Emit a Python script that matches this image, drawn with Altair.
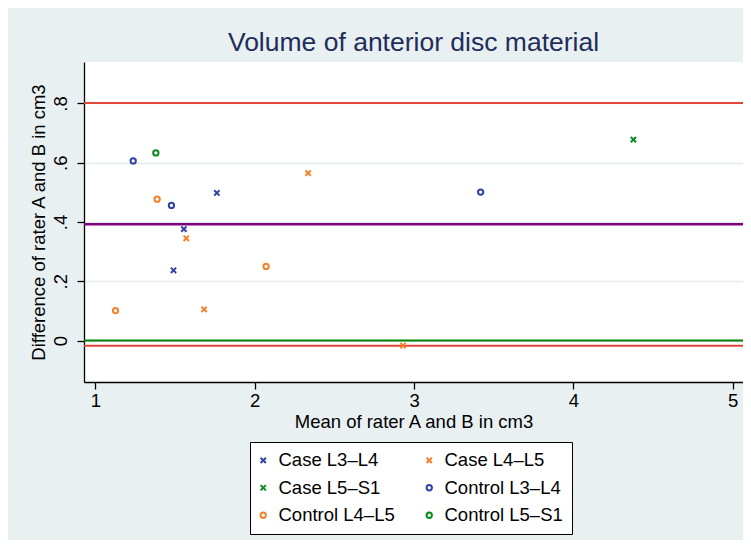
import altair as alt
import pandas as pd

# ---- data ----
categories = ["Case L3–L4", "Case L4–L5", "Case L5–S1",
              "Control L3–L4", "Control L4–L5", "Control L5–S1"]
cat_colors = ["#3343a3", "#f5822a", "#0b8a1f", "#3343a3", "#f5822a", "#0b8a1f"]
XSHAPE = "M-1,-1L1,1M1,-1L-1,1"
cat_shapes = [XSHAPE, XSHAPE, XSHAPE, "circle", "circle", "circle"]

pt_group = ["Case L3–L4", "Case L3–L4", "Case L3–L4",
            "Case L4–L5", "Case L4–L5", "Case L4–L5", "Case L4–L5",
            "Case L5–S1",
            "Control L3–L4", "Control L3–L4", "Control L3–L4",
            "Control L4–L5", "Control L4–L5", "Control L4–L5",
            "Control L5–S1"]
pt_mean = [1.762, 1.555, 1.490,
           2.335, 1.570, 1.682, 2.931,
           4.377,
           1.237, 1.477, 3.418,
           1.387, 2.071, 1.126,
           1.379]
pt_diff = [0.498, 0.376, 0.237,
           0.565, 0.345, 0.105, -0.017,
           0.678,
           0.606, 0.456, 0.501,
           0.477, 0.250, 0.101,
           0.633]

line_values = [0.802, 0.392, 0.0, -0.018]
line_colors = ["#e0473a", "#800080", "#008000", "#e0473a"]
line_widths = [2.0, 2.5, 2.2, 2.0]

y_ticks = [0, 0.2, 0.4, 0.6, 0.8]
x_ticks = [1, 2, 3, 4, 5]

pts = pd.DataFrame({"group": pt_group, "mean": pt_mean, "diff": pt_diff})
lines = pd.DataFrame({"y": line_values, "c": line_colors, "w": line_widths})

FONT = "Liberation Sans"

xscale = alt.Scale(domain=[0.928, 5.065], nice=False, zero=False)
yscale = alt.Scale(domain=[-0.140, 0.94], nice=False, zero=False)

legend_kw = dict(title=None, orient="none", legendX=166, legendY=380,
                 direction="horizontal", columns=2,
                 fillColor="white", strokeColor="black",
                 padding=9, labelFont=FONT, labelFontSize=18.5,
                 labelColor="black", labelOffset=6, symbolOffset=-5,
                 symbolSize=28, symbolStrokeWidth=2,
                 rowPadding=8.5, columnPadding=27)

rules = alt.Chart(lines).mark_rule().encode(
    y=alt.Y("y:Q", scale=yscale),
    color=alt.Color("c:N", scale=None),
    strokeWidth=alt.StrokeWidth("w:Q", scale=None),
)

points = alt.Chart(pts).mark_point(filled=False, strokeWidth=2, size=28, opacity=1).encode(
    x=alt.X("mean:Q", scale=xscale,
            axis=alt.Axis(values=x_ticks, format="d", grid=False,
                          domainColor="black", domainWidth=1.3,
                          tickColor="black", tickWidth=1.3, tickSize=7,
                          labelFont=FONT, labelFontSize=18.5, labelColor="black",
                          labelPadding=11.5, labelBaseline="middle",
                          title="Mean of rater A and B in cm3",
                          titleFont=FONT, titleFontSize=18.5, titleFontWeight="normal",
                          titleColor="black", titleY=39, titleBaseline="middle")),
    y=alt.Y("diff:Q", scale=yscale,
            axis=alt.Axis(values=y_ticks,
                          labelExpr="datum.value == 0 ? '0' : replace(format(datum.value, '.1f'), '0.', '.')",
                          grid=True, gridColor="#e4ecee", gridWidth=1.5,
                          domainColor="black", domainWidth=1.3,
                          tickColor="black", tickWidth=1.3, tickSize=7,
                          labelFont=FONT, labelFontSize=18.5, labelColor="black",
                          labelAngle=270, labelAlign="center", labelBaseline="middle",
                          labelPadding=17,
                          title="Difference of rater A and B in cm3",
                          titleFont=FONT, titleFontSize=18.5, titleFontWeight="normal",
                          titleColor="black", titleAngle=270, titleAlign="center",
                          titleBaseline="middle", titleX=-45.5, titleY=160)),
    color=alt.Color("group:N", scale=alt.Scale(domain=categories, range=cat_colors),
                    legend=alt.Legend(**legend_kw)),
    shape=alt.Shape("group:N", scale=alt.Scale(domain=categories, range=cat_shapes),
                    legend=alt.Legend(**legend_kw)),
)

chart = alt.layer(rules, points).properties(
    width=659, height=320,
    title=alt.TitleParams("Volume of anterior disc material", font=FONT, fontSize=26.5,
                          fontWeight="normal", color="#1f2d5a", anchor="middle", offset=6),
    background="#e9f0f2",
    padding={"left": 76, "top": 54, "right": 0, "bottom": 158},
    autosize=alt.AutoSizeParams(type="none"),
).configure_view(stroke=None, fill="white")

chart.save("out.html", embed_options={"renderer": "svg", "actions": False})
